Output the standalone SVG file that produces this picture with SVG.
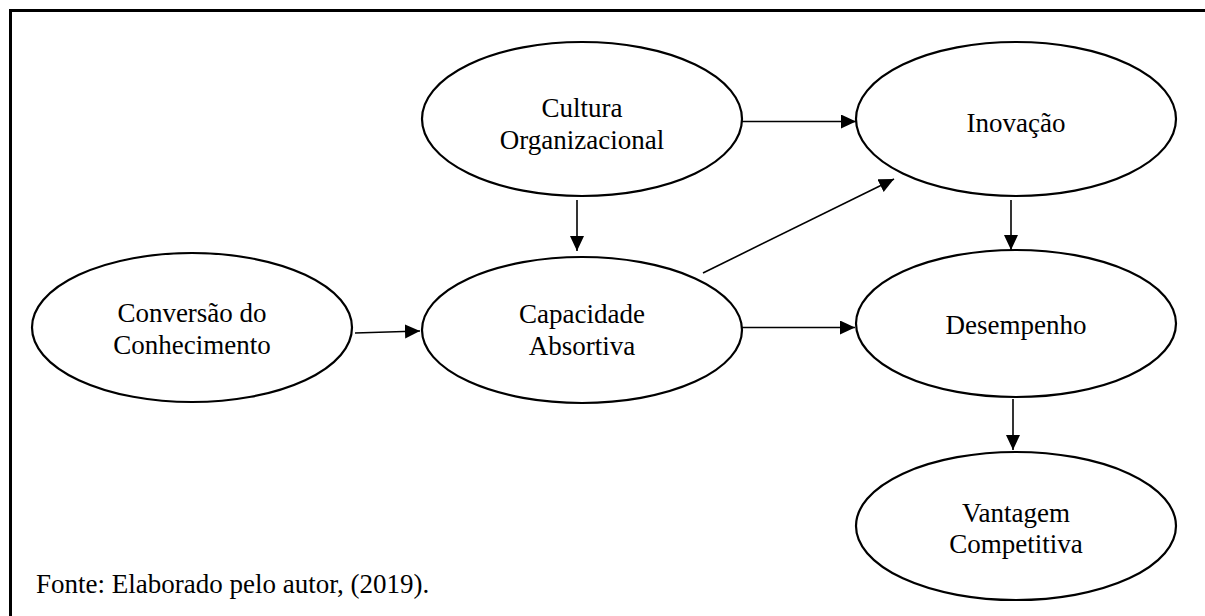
<svg xmlns="http://www.w3.org/2000/svg" width="1205" height="616" viewBox="0 0 1205 616">
<style>
.node ellipse{fill:#fff;stroke:#000;stroke-width:2.2}
.node text,.cap{font-family:"Liberation Serif","Times New Roman",serif;font-size:27px;fill:#000;text-anchor:middle}
.cap{text-anchor:start}
.conn line{stroke:#000;stroke-width:1.6;marker-end:url(#ah)}
</style>
<defs>
<marker id="ah" markerUnits="userSpaceOnUse" markerWidth="16" markerHeight="15" refX="15" refY="7" orient="auto">
<path d="M0,0 L15,7 L0,14 z" fill="#000"/>
</marker>
</defs>
<rect width="1205" height="616" fill="#fff"/>
<path d="M10.5,616 V10.5 H1205" fill="none" stroke="#000" stroke-width="3"/>
<g id="cultura" class="node"><ellipse cx="582" cy="119" rx="160" ry="77"/><text x="582" y="117">Cultura</text><text x="582" y="149">Organizacional</text></g>
<g id="inovacao" class="node"><ellipse cx="1016" cy="119" rx="160" ry="77"/><text x="1016" y="132">Inovação</text></g>
<g id="conversao" class="node"><ellipse cx="192" cy="327.5" rx="160" ry="74.5"/><text x="192" y="322">Conversão do</text><text x="192" y="354">Conhecimento</text></g>
<g id="capacidade" class="node"><ellipse cx="582" cy="330" rx="160" ry="73"/><text x="582" y="323">Capacidade</text><text x="582" y="355">Absortiva</text></g>
<g id="desempenho" class="node"><ellipse cx="1016" cy="323.5" rx="160" ry="73.5"/><text x="1016" y="334">Desempenho</text></g>
<g id="vantagem" class="node"><ellipse cx="1016" cy="526" rx="160" ry="74"/><text x="1016" y="522">Vantagem</text><text x="1016" y="553">Competitiva</text></g>
<g id="connectors" class="conn">
<line x1="355" y1="333" x2="420" y2="331"/>
<line x1="577" y1="200" x2="577" y2="251"/>
<line x1="742" y1="121.5" x2="856" y2="121.5"/>
<line x1="703" y1="273" x2="894" y2="179"/>
<line x1="742" y1="327.5" x2="855" y2="327.5"/>
<line x1="1011" y1="200" x2="1011" y2="250"/>
<line x1="1013" y1="399" x2="1013" y2="450"/>
</g>
<text class="cap" x="36" y="593">Fonte: Elaborado pelo autor, (2019).</text>
</svg>
